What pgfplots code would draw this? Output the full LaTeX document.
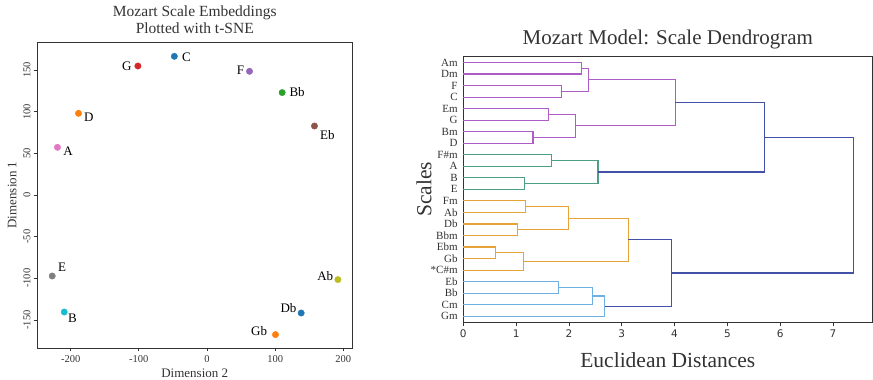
\documentclass[border=0pt]{standalone}
\usepackage{pgfplots}
\pgfplotsset{compat=1.18}
\usepackage{fontspec}
\setmainfont{Liberation Serif}
\newfontfamily\dejavu{DejaVu Sans}
\definecolor{axgray}{HTML}{333333}
\definecolor{tblue}{HTML}{1F77B4}
\definecolor{torange}{HTML}{FF7F0E}
\definecolor{tgreen}{HTML}{2CA02C}
\definecolor{tred}{HTML}{D62728}
\definecolor{tpurple}{HTML}{9467BD}
\definecolor{tbrown}{HTML}{8C564B}
\definecolor{tpink}{HTML}{E377C2}
\definecolor{tgray}{HTML}{7F7F7F}
\definecolor{tolive}{HTML}{BCBD22}
\definecolor{tcyan}{HTML}{17BECF}
\definecolor{dpurple}{HTML}{AE5CC6}
\definecolor{dgreen}{HTML}{4C9F80}
\definecolor{dorange}{HTML}{E6A338}
\definecolor{dlblue}{HTML}{6FB0E2}
\definecolor{dnavy}{HTML}{4351A8}
\newcommand{\pt}[6]{\addplot[only marks, mark=*, mark size=3.2pt, color=#1, mark options={draw=#1, fill=#1},
  nodes near coords={#2}, every node near coord/.append style={anchor=center, xshift=#5pt, yshift=#6pt, text=black, font=\fontsize{13}{13}\selectfont, inner sep=0pt}] coordinates {(#3,#4)};}
\newcommand{\lk}[2]{\addplot[color=#1, line width=1.1pt] coordinates {#2};}
\begin{document}
\begin{tikzpicture}[x=1pt,y=1pt]
\path[use as bounding box] (0,0) rectangle (873,380);
% ---------------- left: t-SNE ----------------
\begin{axis}[at={(37.5pt,32pt)}, anchor=south west, width=314.5pt, height=306pt, scale only axis,
  xmin=-248.7, xmax=212.8, ymin=-183.6, ymax=183.6,
  xtick={-200,-100,0,100,200}, ytick={-150,-100,-50,0,50,100,150},
  axis line style={draw=axgray, line width=0.9pt},
  tick style={draw=axgray, line width=0.8pt}, tick align=outside, major tick length=3.5pt,
  xtick pos=bottom, ytick pos=left,
  /pgf/number format/assume math mode=true,
  ticklabel style={font=\fontsize{10.5}{12}\selectfont, text=axgray},
  yticklabel style={rotate=90, anchor=south},
  title={Mozart Scale Embeddings\\Plotted with t-SNE},
  title style={align=center, font=\fontsize{15.5}{17}\selectfont, text=axgray, yshift=-1.5pt},
  xlabel={Dimension 2}, ylabel={Dimension 1},
  label style={font=\fontsize{13}{14}\selectfont, text=axgray},
  clip=false]
\pt{tblue}{C}{-47.9}{166.4}{12}{-1}
\pt{tred}{G}{-101.4}{154.8}{-11}{0}
\pt{tpurple}{F}{62.4}{148.4}{-9}{1}
\pt{tgreen}{Bb}{110.3}{122.9}{15}{0.6}
\pt{tbrown}{Eb}{157.7}{82.8}{13}{-9.3}
\pt{torange}{D}{-188.5}{98}{10.4}{-4.3}
\pt{tpink}{A}{-219.4}{57.2}{10.7}{-3.7}
\pt{tgray}{E}{-227.1}{-97.2}{10}{9}
\pt{tcyan}{B}{-209.5}{-140.4}{8.3}{-6}
\pt{tolive}{Ab}{192.1}{-101.5}{-12.7}{3.6}
\pt{tblue}{Db}{138.2}{-141.6}{-12.7}{5}
\pt{torange}{Gb}{100.5}{-167.5}{-16.3}{3.6}
\end{axis}
% ---------------- right: dendrogram ----------------
\begin{axis}[at={(463.3pt,58pt)}, anchor=south west, width=409pt, height=265.3pt, scale only axis,
  xmin=0, xmax=7.745, ymin=0, ymax=230, y dir=reverse,
  xtick={0,1,2,3,4,5,6,7},
  ytick={5,15,...,225},
  yticklabels={Am,Dm,F,C,Em,G,Bm,D,F\#m,A,B,E,Fm,Ab,Db,Bbm,Ebm,Gb,*C\#m,Eb,Bb,Cm,Gm},
  axis line style={draw=axgray, line width=0.9pt},
  xtick style={draw=axgray, line width=0.8pt}, ytick style={draw=none},
  tick align=outside, major tick length=4pt,
  xtick pos=bottom, ytick pos=left,
  /pgf/number format/assume math mode=true,
  xticklabel style={font=\dejavu\fontsize{10.5}{12}\selectfont, text=axgray},
  yticklabel style={font=\fontsize{11}{11}\selectfont, text=axgray, inner sep=1.5pt},
  title={Mozart Model: Scale Dendrogram},
  title style={font=\fontsize{21}{23}\selectfont, text=axgray, yshift=-2pt},
  xlabel={Euclidean Distances}, ylabel={Scales},
  xlabel style={font=\fontsize{21.5}{23}\selectfont, text=axgray, yshift=-8pt},
  ylabel style={font=\fontsize{21.5}{23}\selectfont, text=axgray, yshift=-6pt},
  clip=false]
\lk{dpurple}{(0,5)(2.23,5)(2.23,15)(0,15)}
\lk{dpurple}{(0,25)(1.86,25)(1.86,35)(0,35)}
\lk{dpurple}{(2.23,10)(2.37,10)(2.37,30)(1.86,30)}
\lk{dpurple}{(0,45)(1.62,45)(1.62,55)(0,55)}
\lk{dpurple}{(0,65)(1.32,65)(1.32,75)(0,75)}
\lk{dpurple}{(1.62,50)(2.13,50)(2.13,70)(1.32,70)}
\lk{dpurple}{(2.37,20)(4.01,20)(4.01,60)(2.13,60)}
\lk{dgreen}{(0,85)(1.67,85)(1.67,95)(0,95)}
\lk{dgreen}{(0,105)(1.16,105)(1.16,115)(0,115)}
\lk{dgreen}{(1.67,90)(2.55,90)(2.55,110)(1.16,110)}
\lk{dnavy}{(4.01,40)(5.71,40)(5.71,100)(2.55,100)}
\lk{dorange}{(0,125)(1.17,125)(1.17,135)(0,135)}
\lk{dorange}{(0,145)(1.02,145)(1.02,155)(0,155)}
\lk{dorange}{(1.17,130)(1.99,130)(1.99,150)(1.02,150)}
\lk{dorange}{(0,165)(0.61,165)(0.61,175)(0,175)}
\lk{dorange}{(0.61,170)(1.14,170)(1.14,185)(0,185)}
\lk{dorange}{(1.99,140)(3.12,140)(3.12,177.5)(1.14,177.5)}
\lk{dlblue}{(0,195)(1.81,195)(1.81,205)(0,205)}
\lk{dlblue}{(1.81,200)(2.45,200)(2.45,215)(0,215)}
\lk{dlblue}{(2.45,207.5)(2.68,207.5)(2.68,225)(0,225)}
\lk{dnavy}{(3.12,158.75)(3.95,158.75)(3.95,216.25)(2.68,216.25)}
\lk{dnavy}{(5.71,70)(7.39,70)(7.39,187.5)(3.95,187.5)}
\end{axis}
\end{tikzpicture}
\end{document}
